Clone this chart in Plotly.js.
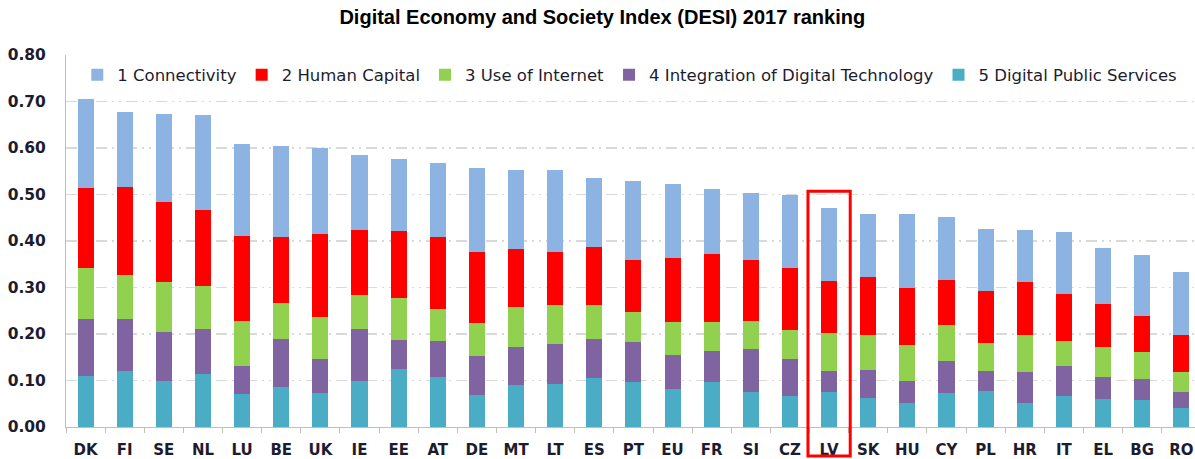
<!DOCTYPE html>
<html>
<head>
<meta charset="utf-8">
<script src="https://cdn.plot.ly/plotly-3.0.1.min.js"></script>
<style>html,body{margin:0;padding:0;background:#fff;}#chart{width:1195px;height:459px;}</style>
</head>
<body>
<div id="chart"></div>
<script>
const countries = ["DK","FI","SE","NL","LU","BE","UK","IE","EE","AT","DE","MT","LT","ES","PT","EU","FR","SI","CZ","LV","SK","HU","CY","PL","HR","IT","EL","BG","RO"];
const digitalPublicServices = [0.109,0.121,0.098,0.115,0.072,0.085,0.074,0.100,0.124,0.108,0.068,0.091,0.092,0.106,0.097,0.081,0.097,0.075,0.066,0.076,0.063,0.052,0.074,0.078,0.052,0.066,0.060,0.059,0.040];
const integrationDigitalTech = [0.124,0.111,0.106,0.095,0.059,0.104,0.073,0.111,0.063,0.077,0.085,0.080,0.087,0.083,0.085,0.073,0.067,0.092,0.081,0.044,0.060,0.047,0.067,0.042,0.067,0.065,0.048,0.044,0.036];
const useOfInternet = [0.109,0.094,0.108,0.093,0.096,0.078,0.090,0.073,0.090,0.068,0.071,0.088,0.084,0.073,0.066,0.072,0.061,0.062,0.062,0.083,0.074,0.078,0.078,0.061,0.078,0.055,0.064,0.058,0.043];
const humanCapital = [0.172,0.190,0.172,0.163,0.184,0.142,0.179,0.139,0.144,0.156,0.153,0.124,0.113,0.125,0.111,0.138,0.148,0.130,0.133,0.110,0.125,0.121,0.097,0.112,0.114,0.100,0.092,0.077,0.078];
const connectivity = [0.191,0.162,0.190,0.204,0.197,0.195,0.185,0.162,0.156,0.159,0.179,0.170,0.176,0.149,0.169,0.158,0.138,0.144,0.157,0.159,0.136,0.160,0.136,0.132,0.113,0.134,0.120,0.132,0.136];
const yTicks = [0,0.1,0.2,0.3,0.4,0.5,0.6,0.7,0.8];
const yTickLabels = ["0.00","0.10","0.20","0.30","0.40","0.50","0.60","0.70","0.80"];
const highlighted = "LV";

const seriesDefs = [
  {name:"5 Digital Public Services", y:digitalPublicServices, color:"#4BACC6"},
  {name:"4 Integration of Digital Technology", y:integrationDigitalTech, color:"#8064A2"},
  {name:"3 Use of Internet", y:useOfInternet, color:"#92D050"},
  {name:"2 Human Capital", y:humanCapital, color:"#FF0000"},
  {name:"1 Connectivity", y:connectivity, color:"#8DB3E2"}
];
const traces = seriesDefs.map(s => ({
  type:"bar", x:countries, y:s.y, name:s.name,
  marker:{color:s.color, line:{width:0}}, hoverinfo:"x+y+name"
}));

const txt = "#1c1c30";
const layout = {
  width:1195, height:459,
  margin:{l:66, r:0, t:55, b:32, pad:0},
  paper_bgcolor:"#ffffff", plot_bgcolor:"#ffffff",
  barmode:"stack", bargap:0.59,
  title:{text:"Digital Economy and Society Index (DESI) 2017 ranking",
    font:{family:"Liberation Sans Narrow, Liberation Sans, Arial", size:20, color:"#000", weight:700},
    x:0.504, xanchor:"center", y:0.962, yanchor:"middle"},
  xaxis:{type:"category", range:[-0.5,28.35], showgrid:false, showline:true, linecolor:"#bfbfbf", linewidth:1,
    ticks:"outside", tickson:"boundaries", ticklen:5, tickcolor:"#bfbfbf",
    tickfont:{family:"DejaVu Sans", size:15, color:txt, weight:700}, ticklabelstandoff:9, fixedrange:true},
  yaxis:{range:[0,0.8], tickvals:yTicks, ticktext:yTickLabels, showline:true, linecolor:"#bfbfbf", linewidth:1,
    showgrid:true, gridcolor:"#d9d9d9", gridwidth:1.3, griddash:"11px,5px,2px,5px,2px,5px",
    zeroline:false, ticks:"", tickfont:{family:"DejaVu Sans", size:15.5, color:txt, weight:700},
    ticklabelstandoff:16, fixedrange:true},
  legend:{orientation:"h", traceorder:"reversed", x:0.01, xanchor:"left", y:0.946, yanchor:"middle",
    font:{family:"DejaVu Sans", size:16.5, color:txt}, bgcolor:"rgba(255,255,255,0)", itemwidth:30},
  shapes:[{type:"rect", xref:"x", yref:"paper", x0:highlighted, x1:highlighted, x0shift:-0.54, x1shift:0.54,
    y0:-0.078, y1:0.634, line:{color:"#FF0000", width:3}, fillcolor:"rgba(0,0,0,0)", layer:"above"}],
  showlegend:true
};
Plotly.newPlot("chart", traces, layout, {displayModeBar:false, staticPlot:true});
</script>
</body>
</html>
